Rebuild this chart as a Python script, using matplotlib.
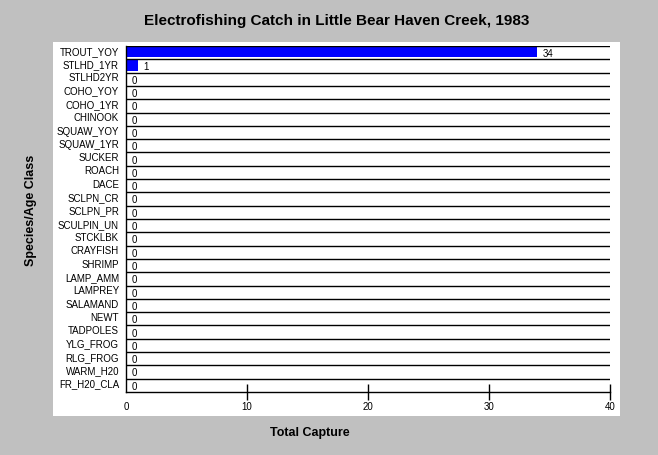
import matplotlib
matplotlib.use('Agg')
import matplotlib.pyplot as plt
from matplotlib.patches import Rectangle

# Data
species = ['TROUT_YOY', 'STLHD_1YR', 'STLHD2YR', 'COHO_YOY', 'COHO_1YR', 'CHINOOK',
           'SQUAW_YOY', 'SQUAW_1YR', 'SUCKER', 'ROACH', 'DACE', 'SCLPN_CR',
           'SCLPN_PR', 'SCULPIN_UN', 'STCKLBK', 'CRAYFISH', 'SHRIMP', 'LAMP_AMM',
           'LAMPREY', 'SALAMAND', 'NEWT', 'TADPOLES', 'YLG_FROG', 'RLG_FROG',
           'WARM_H20', 'FR_H20_CLA']
counts = [34, 1, 0, 0, 0, 0, 0, 0, 0, 0, 0, 0, 0, 0, 0, 0, 0, 0, 0, 0, 0, 0, 0, 0, 0, 0]
xticks = [0, 10, 20, 30, 40]

plt.rcParams['font.family'] = ['Liberation Sans', 'DejaVu Sans']

fig = plt.figure(figsize=(6.58, 4.55), dpi=100)
fig.patch.set_facecolor('#C0C0C0')

# white panel behind the chart
panel = Rectangle((53/658, 39/455), 567/658, 374/455, transform=fig.transFigure,
                  facecolor='white', edgecolor='none', zorder=-10)
fig.patches.append(panel)

n = len(species)
ax = fig.add_axes([126/658, 63/455, 484/658, 346/455])
ax.set_facecolor('white')
ax.set_zorder(5)

ypos = list(range(n))
ax.barh(ypos, counts, height=0.85, align='edge', color='#0000FF', edgecolor='none', zorder=2)
for y, v in zip(ypos, counts):
    ax.annotate(str(v), (v, y + 0.5), xytext=(4, -1), textcoords='offset points',
                ha='left', va='center', fontsize=7)

ax.hlines(ypos, 0, 40, color='black', lw=1, zorder=3)
ax.set_xlim(0, 40)
ax.set_ylim(n, 0)

# category labels sit a little high in each row, as in the original
ax.set_yticks([y + 0.35 for y in ypos])
ax.set_yticklabels(species, fontsize=7, va='center_baseline')
ax.tick_params(axis='y', length=0, pad=5)
ax.set_xticks(xticks)
ax.set_xticklabels([str(t) for t in xticks], fontsize=7)
ax.tick_params(axis='x', direction='inout', length=12, width=1, pad=1)
ax.xaxis.get_major_ticks()[0].tick1line.set_visible(False)

ax.spines['top'].set_visible(False)
ax.spines['right'].set_visible(False)
ax.spines['left'].set_linewidth(1)
ax.spines['bottom'].set_linewidth(1)

fig.text(337/658, 1 - 21/455, 'Electrofishing Catch in Little Bear Haven Creek, 1983',
         ha='center', va='center', fontsize=11, fontweight='bold')
fig.text(310/658, 1 - 433/455, 'Total Capture', ha='center', va='center',
         fontsize=9, fontweight='bold')
fig.text(31/658, 1 - 210/455, 'Species/Age Class', ha='center', va='center',
         rotation=90, fontsize=9, fontweight='bold')

plt.savefig('out.png', dpi=100, facecolor=fig.get_facecolor())
